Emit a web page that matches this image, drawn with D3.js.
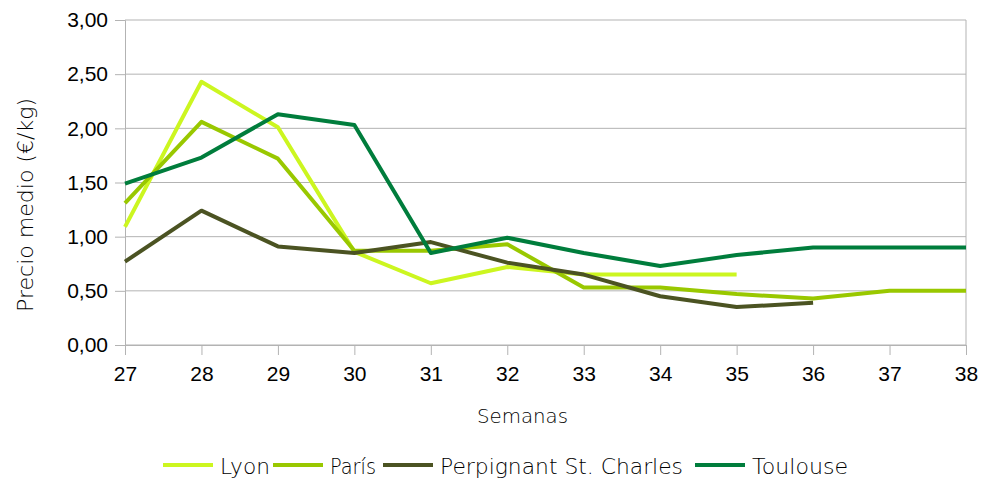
<!DOCTYPE html>
<html>
<head>
<meta charset="utf-8">
<script src="https://cdn.jsdelivr.net/npm/d3@7/dist/d3.min.js"></script>
<style>
  body { margin: 0; background: #fff; }
  svg { display: block; }
  .tick text { font-family: "Liberation Sans", Arial, sans-serif; font-size: 21px; fill: #000; }
  .lbl { font-family: "DejaVu Sans", sans-serif; font-weight: 200; fill: #000; }
</style>
</head>
<body>
<svg id="chart" width="990" height="483"></svg>
<script>
const weeks = [27, 28, 29, 30, 31, 32, 33, 34, 35, 36, 37, 38]
const seriesNames = ['Lyon', 'París', 'Perpignant St. Charles', 'Toulouse']
const seriesColors = ['#ccf620', '#99c800', '#4b5322', '#007d3c']

// null = no price that week
const lyon = [1.09, 2.43, 2.01, 0.86, 0.57, 0.72, 0.65, 0.65, 0.65, null, null, null]
const paris = [1.31, 2.06, 1.72, 0.87, 0.87, 0.93, 0.53, 0.53, 0.47, 0.43, 0.50, 0.50]
const perpignan = [0.77, 1.24, 0.91, 0.85, 0.95, 0.76, 0.65, 0.45, 0.35, 0.39, null, null]
const toulouse = [1.49, 1.73, 2.13, 2.03, 0.85, 0.99, 0.85, 0.73, 0.83, 0.90, 0.90, 0.90]

const yTicks = [0, 0.5, 1, 1.5, 2, 2.5, 3]

const allSeries = [lyon, paris, perpignan, toulouse].map((values, i) => ({
  name: seriesNames[i],
  color: seriesColors[i],
  values
}))

const svg = d3.select('#chart')
const margin = { left: 125, right: 24, top: 20, bottom: 138 }
const width = 990 - margin.left - margin.right
const height = 483 - margin.top - margin.bottom

const x = d3.scaleLinear().domain([27, 38]).range([0, width])
const y = d3.scaleLinear().domain([0, 3]).range([height, 0])
const fmt = (d) => d3.format('.2f')(d).replace('.', ',')

const g = svg.append('g').attr('transform', `translate(${margin.left},${margin.top})`)

// gridlines
g.append('g')
  .selectAll('line')
  .data(yTicks)
  .join('line')
  .attr('x1', 0)
  .attr('x2', width)
  .attr('y1', (d) => y(d))
  .attr('y2', (d) => y(d))
  .attr('stroke', '#b3b3b3')
  .attr('stroke-width', 1)

// right border
g.append('line')
  .attr('x1', width).attr('x2', width)
  .attr('y1', 0).attr('y2', height)
  .attr('stroke', '#b3b3b3')

const yAxis = g.append('g')
  .call(d3.axisLeft(y).tickValues(yTicks).tickFormat(fmt).tickSize(10).tickPadding(7))
const xAxis = g.append('g')
  .attr('transform', `translate(0,${height})`)
  .call(d3.axisBottom(x).tickValues(weeks).tickFormat(d3.format('d')).tickSize(10).tickPadding(11))

for (const ax of [yAxis, xAxis]) {
  ax.select('.domain').attr('stroke', '#b3b3b3')
  ax.selectAll('.tick line').attr('stroke', '#b3b3b3')
}

// lines
const line = d3.line()
  .defined((d) => d != null)
  .x((d, i) => x(weeks[i]))
  .y((d) => y(d))

g.append('g')
  .selectAll('path')
  .data(allSeries)
  .join('path')
  .attr('d', (s) => line(s.values))
  .attr('fill', 'none')
  .attr('stroke', (s) => s.color)
  .attr('stroke-width', 4)
  .attr('stroke-linejoin', 'round')

// axis titles
svg.append('text')
  .attr('class', 'lbl')
  .attr('x', 477)
  .attr('y', 423)
  .attr('textLength', 91)
  .attr('lengthAdjust', 'spacingAndGlyphs')
  .style('font-size', '20px')
  .text('Semanas')

svg.append('text')
  .attr('class', 'lbl')
  .attr('transform', 'translate(33,312) rotate(-90)')
  .attr('textLength', 214)
  .attr('lengthAdjust', 'spacingAndGlyphs')
  .style('font-size', '21px')
  .text('Precio medio (€/kg)')

// legend
const legendX = [163, 273, 383, 695]
const legendW = [50, 46, 243, 96]
const legend = svg.append('g')
  .selectAll('g')
  .data(allSeries)
  .join('g')
  .attr('transform', (d, i) => `translate(${legendX[i]},465)`)
legend.append('line')
  .attr('x1', 0).attr('x2', 50)
  .attr('stroke', (d) => d.color)
  .attr('stroke-width', 4)
legend.append('text')
  .attr('class', 'lbl')
  .attr('x', 57)
  .attr('y', 9)
  .attr('textLength', (d, i) => legendW[i])
  .attr('lengthAdjust', 'spacingAndGlyphs')
  .style('font-size', '22px')
  .text((d) => d.name)
</script>
</body>
</html>
